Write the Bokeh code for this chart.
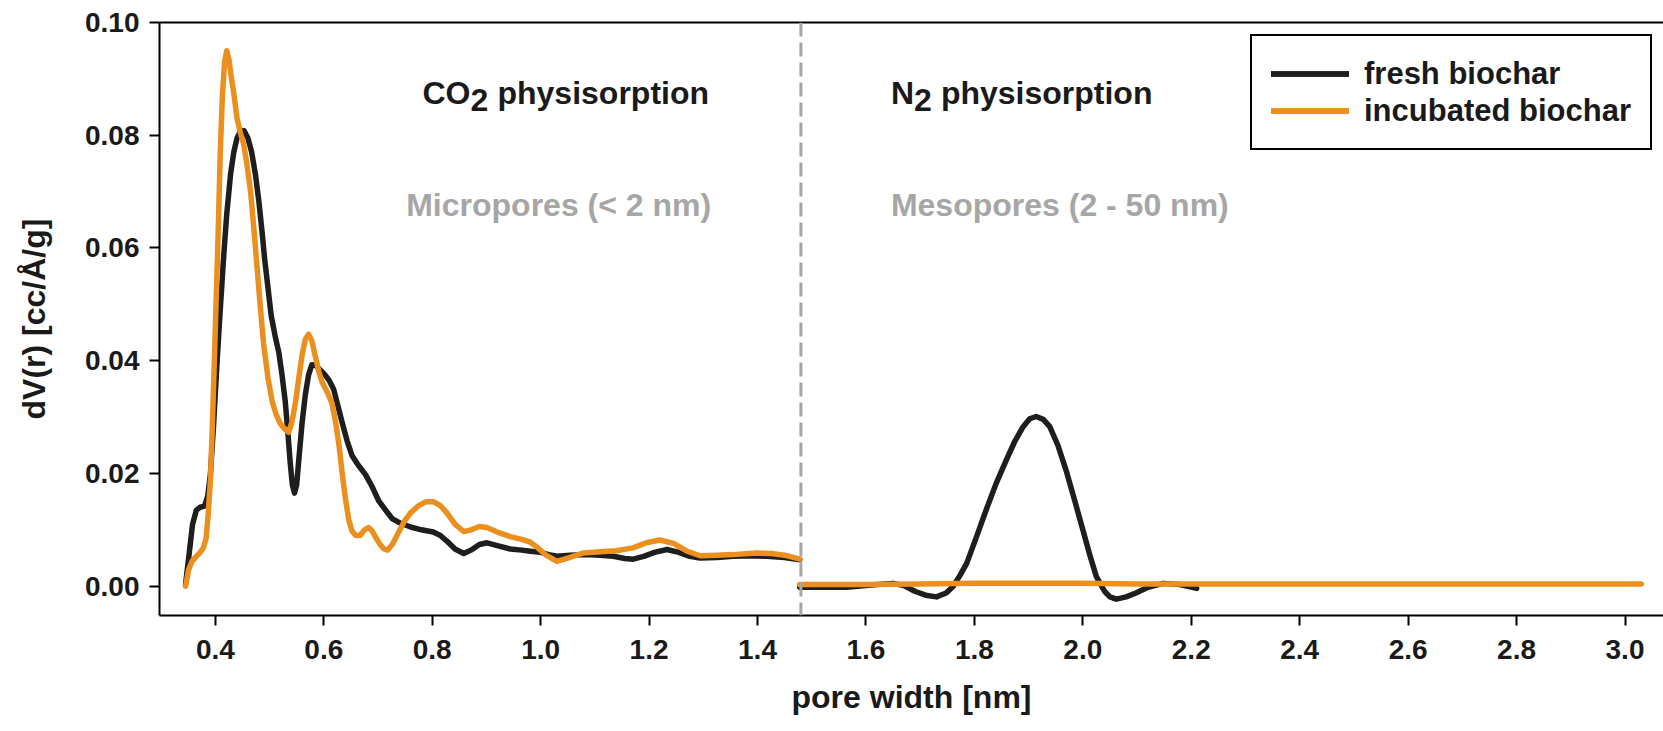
from bokeh.plotting import figure
from bokeh.models import Range1d, LinearAxis, Span, Label, FixedTicker, PrintfTickFormatter
from bokeh.embed import file_html
from bokeh.resources import INLINE

# ---------------- data ----------------
x_ticks = [0.4, 0.6, 0.8, 1.0, 1.2, 1.4, 1.6, 1.8, 2.0, 2.2, 2.4, 2.6, 2.8, 3.0]
y_ticks = [0.0, 0.02, 0.04, 0.06, 0.08, 0.10]
divider_x = 1.48

fresh_co2_x = [0.345, 0.352, 0.358, 0.365, 0.372, 0.380, 0.386, 0.391, 0.397, 0.403,
               0.409, 0.415, 0.421, 0.428, 0.434, 0.440, 0.447, 0.453, 0.460, 0.467,
               0.474, 0.480, 0.486, 0.491, 0.497, 0.503, 0.510, 0.517, 0.523, 0.529,
               0.534, 0.538, 0.542, 0.546, 0.550, 0.554, 0.560, 0.566, 0.572, 0.578,
               0.585, 0.591, 0.597, 0.603, 0.610, 0.618, 0.626, 0.634, 0.643, 0.652,
               0.664, 0.677, 0.690, 0.701, 0.714, 0.726, 0.741, 0.760, 0.780, 0.802,
               0.815, 0.827, 0.842, 0.858, 0.872, 0.887, 0.901, 0.920, 0.944, 0.965,
               0.981, 1.000, 1.015, 1.030, 1.055, 1.085, 1.110, 1.134, 1.155, 1.171,
               1.190, 1.210, 1.233, 1.255, 1.275, 1.294, 1.325, 1.355, 1.385, 1.417,
               1.450, 1.478]
fresh_co2_y = [0.0003, 0.0060, 0.0110, 0.0135, 0.0140, 0.0142, 0.0160, 0.0200, 0.0290, 0.0395,
               0.0490, 0.0580, 0.0660, 0.0730, 0.0770, 0.0795, 0.0808, 0.0808, 0.0795, 0.0770,
               0.0730, 0.0685, 0.0630, 0.0580, 0.0530, 0.0480, 0.0445, 0.0415, 0.0375, 0.0327,
               0.0270, 0.0220, 0.0180, 0.0165, 0.0180, 0.0225, 0.0290, 0.0340, 0.0375, 0.0393,
               0.0392, 0.0386, 0.0380, 0.0374, 0.0365, 0.0350, 0.0320, 0.0290, 0.0258, 0.0232,
               0.0214, 0.0198, 0.0175, 0.0152, 0.0135, 0.0120, 0.0112, 0.0105, 0.0100, 0.0096,
               0.0090, 0.0080, 0.0066, 0.0058, 0.0064, 0.0074, 0.0077, 0.0072, 0.0066, 0.0064,
               0.0062, 0.0060, 0.0056, 0.0053, 0.0055, 0.0056, 0.0055, 0.0053, 0.0049, 0.0048,
               0.0053, 0.0060, 0.0065, 0.0060, 0.0053, 0.0050, 0.0051, 0.0053, 0.0054, 0.0053,
               0.0051, 0.0047]

fresh_n2_x = [1.478, 1.520, 1.564, 1.610, 1.650, 1.670, 1.690, 1.710, 1.730, 1.748,
              1.761, 1.774, 1.786, 1.804, 1.822, 1.840, 1.859, 1.875, 1.890, 1.902,
              1.914, 1.927, 1.939, 1.954, 1.969, 1.985, 2.000, 2.013, 2.025, 2.040,
              2.050, 2.062, 2.080, 2.098, 2.120, 2.148, 2.179, 2.210]
fresh_n2_y = [-0.0002, -0.0002, -0.0002, 0.0002, 0.0005, 0.0001, -0.0009, -0.0016, -0.0019, -0.0012,
              0.0000, 0.0020, 0.0041, 0.0088, 0.0136, 0.0182, 0.0224, 0.0258, 0.0283, 0.0297,
              0.0301, 0.0296, 0.0283, 0.0250, 0.0206, 0.0152, 0.0100, 0.0055, 0.0017, -0.0009,
              -0.0019, -0.0023, -0.0019, -0.0012, -0.0002, 0.0005, 0.0003, -0.0004]

incubated_co2_x = [0.345, 0.351, 0.357, 0.364, 0.372, 0.378, 0.383, 0.387, 0.391, 0.395,
                   0.400, 0.405, 0.409, 0.413, 0.417, 0.421, 0.425, 0.429, 0.434, 0.440,
                   0.446, 0.452, 0.458, 0.465, 0.471, 0.477, 0.483, 0.489, 0.497, 0.505,
                   0.512, 0.520, 0.527, 0.535, 0.541, 0.548, 0.554, 0.560, 0.566, 0.572,
                   0.578, 0.585, 0.591, 0.597, 0.606, 0.615, 0.622, 0.628, 0.634, 0.640,
                   0.646, 0.652, 0.659, 0.667, 0.675, 0.683, 0.689, 0.695, 0.703, 0.711,
                   0.718, 0.727, 0.737, 0.748, 0.760, 0.775, 0.789, 0.802, 0.815, 0.827,
                   0.842, 0.858, 0.872, 0.887, 0.901, 0.920, 0.944, 0.965, 0.981, 0.995,
                   1.010, 1.030, 1.050, 1.079, 1.110, 1.140, 1.170, 1.195, 1.220, 1.245,
                   1.270, 1.294, 1.325, 1.355, 1.398, 1.425, 1.450, 1.478]
incubated_co2_y = [0.0000, 0.0030, 0.0044, 0.0052, 0.0060, 0.0068, 0.0085, 0.0130, 0.0190, 0.0300,
                   0.0460, 0.0620, 0.0766, 0.0870, 0.0930, 0.0950, 0.0935, 0.0905, 0.0875, 0.0830,
                   0.0805, 0.0785, 0.0750, 0.0700, 0.0635, 0.0565, 0.0495, 0.0430, 0.0370, 0.0327,
                   0.0305, 0.0288, 0.0280, 0.0273, 0.0290, 0.0327, 0.0370, 0.0410, 0.0438, 0.0447,
                   0.0435, 0.0405, 0.0380, 0.0362, 0.0345, 0.0325, 0.0290, 0.0250, 0.0200, 0.0155,
                   0.0118, 0.0098, 0.0090, 0.0090, 0.0100, 0.0104, 0.0098, 0.0088, 0.0075, 0.0066,
                   0.0064, 0.0075, 0.0094, 0.0114, 0.0130, 0.0143, 0.0150, 0.0150, 0.0143, 0.0130,
                   0.0110, 0.0097, 0.0100, 0.0106, 0.0104, 0.0096, 0.0088, 0.0083, 0.0078, 0.0068,
                   0.0055, 0.0044, 0.0050, 0.0059, 0.0061, 0.0063, 0.0068, 0.0077, 0.0082, 0.0076,
                   0.0062, 0.0054, 0.0055, 0.0056, 0.0059, 0.0058, 0.0055, 0.0048]

incubated_n2_x = [1.478, 1.600, 1.700, 1.800, 1.900, 2.000, 2.100, 2.200, 2.400, 2.600, 2.800, 3.030]
incubated_n2_y = [0.0003, 0.0003, 0.0004, 0.0005, 0.0005, 0.0005, 0.0004, 0.0004, 0.0004, 0.0004, 0.0004, 0.0004]

FONT = "Liberation Sans"
BLACK = "#1e1e1e"
ORANGE = "#eb901f"
GREY = "#a6a6a6"

p = figure(width=1663, height=731,
           x_range=Range1d(0.297, 3.071), y_range=Range1d(-0.0052, 0.1),
           output_backend="svg", toolbar_location=None,
           min_border_left=159, min_border_right=0, min_border_top=22, min_border_bottom=116)
p.outline_line_color = None
p.grid.visible = False
p.background_fill_color = "white"
p.border_fill_color = "white"

for ax in (p.xaxis[0], p.yaxis[0]):
    ax.axis_line_width = 2
    ax.axis_line_color = "black"
    ax.major_tick_line_width = 2
    ax.major_tick_line_color = "black"
    ax.major_tick_out = 10
    ax.major_tick_in = 0
    ax.minor_tick_line_color = None
    ax.major_label_text_font = FONT
    ax.major_label_text_font_style = "bold"
    ax.major_label_text_font_size = "28px"
    ax.major_label_text_color = "#1a1a1a"
    ax.axis_label_text_font = FONT
    ax.axis_label_text_font_style = "bold"
    ax.axis_label_text_font_size = "32px"
    ax.axis_label_text_color = "#1a1a1a"

p.xaxis.ticker = FixedTicker(ticks=x_ticks)
p.xaxis.formatter = PrintfTickFormatter(format="%.1f")
p.xaxis.axis_label = "pore width [nm]"
p.xaxis.major_label_standoff = 14
p.xaxis.axis_label_standoff = 17

p.yaxis.ticker = FixedTicker(ticks=y_ticks)
p.yaxis.formatter = PrintfTickFormatter(format="%.2f")
p.yaxis.axis_label = "dV(r) [cc/Å/g]"
p.yaxis.major_label_standoff = 10
p.yaxis.axis_label_standoff = 30

top = LinearAxis(ticker=FixedTicker(ticks=[]), axis_line_width=2, axis_line_color="black",
                 major_tick_line_color=None, minor_tick_line_color=None)
p.add_layout(top, "above")

p.line(fresh_co2_x, fresh_co2_y, line_color=BLACK, line_width=5.5, line_join="round",
       line_cap="round", legend_label="fresh biochar")
p.line(fresh_n2_x, fresh_n2_y, line_color=BLACK, line_width=5.5, line_join="round",
       line_cap="round", legend_label="fresh biochar")
p.line(incubated_co2_x, incubated_co2_y, line_color=ORANGE, line_width=5.5, line_join="round",
       line_cap="round", legend_label="incubated biochar")
p.line(incubated_n2_x, incubated_n2_y, line_color=ORANGE, line_width=5.5, line_join="round",
       line_cap="round", legend_label="incubated biochar")

p.add_layout(Span(location=divider_x, dimension="height", line_color=GREY,
                  line_width=3, line_dash="14 6"))

def lab(x, y, text, color, size="32px", dx=0, dy=0):
    p.add_layout(Label(x=x, y=y, text=text, x_offset=dx, y_offset=dy,
                       text_font=FONT, text_font_style="bold", text_font_size=size,
                       text_color=color, text_align="left", text_baseline="alphabetic"))

lab(0.782, 0.0875, "CO", "#1a1a1a")
lab(0.782, 0.0875, "2", "#1a1a1a", dx=48, dy=-7)
lab(0.782, 0.0875, "physisorption", "#1a1a1a", dx=75)
lab(1.646, 0.0875, "N", "#1a1a1a")
lab(1.646, 0.0875, "2", "#1a1a1a", dx=23, dy=-7)
lab(1.646, 0.0875, "physisorption", "#1a1a1a", dx=50)
lab(0.752, 0.0676, "Micropores (< 2 nm)", GREY)
lab(1.646, 0.0676, "Mesopores (2 - 50 nm)", GREY)

lg = p.legend[0]
lg.location = (1091, 465)
lg.border_line_color = "black"
lg.border_line_alpha = 1.0
lg.border_line_width = 2
lg.padding = 19
lg.spacing = 0
lg.margin = 0
lg.label_text_font = FONT
lg.label_text_font_style = "bold"
lg.label_text_font_size = "31px"
lg.label_text_color = "#1a1a1a"
lg.glyph_width = 78
lg.glyph_height = 37
lg.label_height = 37
lg.label_standoff = 15
lg.background_fill_color = "white"
lg.background_fill_alpha = 1.0

open("out.html", "w").write(file_html(p, INLINE))
